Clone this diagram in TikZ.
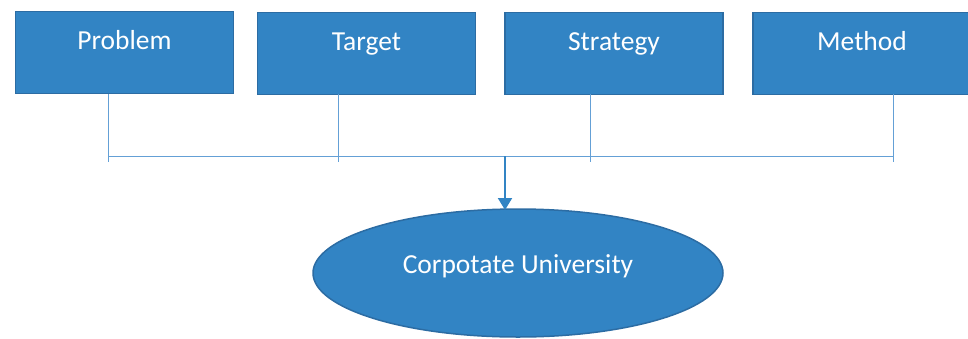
\documentclass[tikz,border=0pt]{standalone}
\usepackage{fontspec}
\setmainfont{Carlito}
\usetikzlibrary{arrows.meta,shapes.geometric}
\definecolor{boxfill}{RGB}{50,132,196}
\definecolor{boxline}{RGB}{44,108,163}
\definecolor{busline}{RGB}{100,160,214}
\tikzset{
  box/.style={draw=boxline, line width=1.5pt, fill=boxfill, text=white,
    minimum width=218pt, minimum height=82pt, inner ysep=17pt,
    text height=20pt, text depth=27pt, font=\fontsize{27.5}{30}\selectfont},
  goal/.style={ellipse, draw=boxline, line width=1.5pt, fill=boxfill, text=white,
    minimum width=410pt, minimum height=128pt, font=\fontsize{27.5}{30}\selectfont},
  bus/.style={draw=busline, line width=1pt},
  feed/.style={draw=boxfill, line width=2pt, -{Triangle[width=14pt,length=12pt]}}
}
\begin{document}
\begin{tikzpicture}[x=1pt,y=1pt]
  \useasboundingbox (0,0) rectangle (968,-338);
  \clip (0,0) rectangle (968,-338);
  % die vier Kaesten oben
  \node[box] (problem)  at (124.5,-52.5) {Problem};
  \node[box] (target)   at (366.5,-53.5) {Target};
  \node[box] (strategy) at (614,-53.5)   {Strategy};
  \node[box] (method)   at (862,-53.5)   {Method};
  % Ellipse unten
  \node[goal] (univ) at (518,-273) {\raisebox{0pt}[0pt][0pt]{Corpotate University}};
  % Sammellinie
  \coordinate (busleft)  at (108,-156);
  \coordinate (busright) at (893,-156);
  \draw[bus] (busleft) -- (busright);
  % Striche von den Kaesten zur Sammellinie
  \foreach \x in {108,338,590,893}
    \draw[bus] (\x,-94) -- (\x,-162);
  % Pfeil zur Ellipse
  \coordinate (join) at (505,-156);
  \coordinate (univtop) at (505,-210);
  \draw[feed] (join) -- (univtop);
\end{tikzpicture}
\end{document}
